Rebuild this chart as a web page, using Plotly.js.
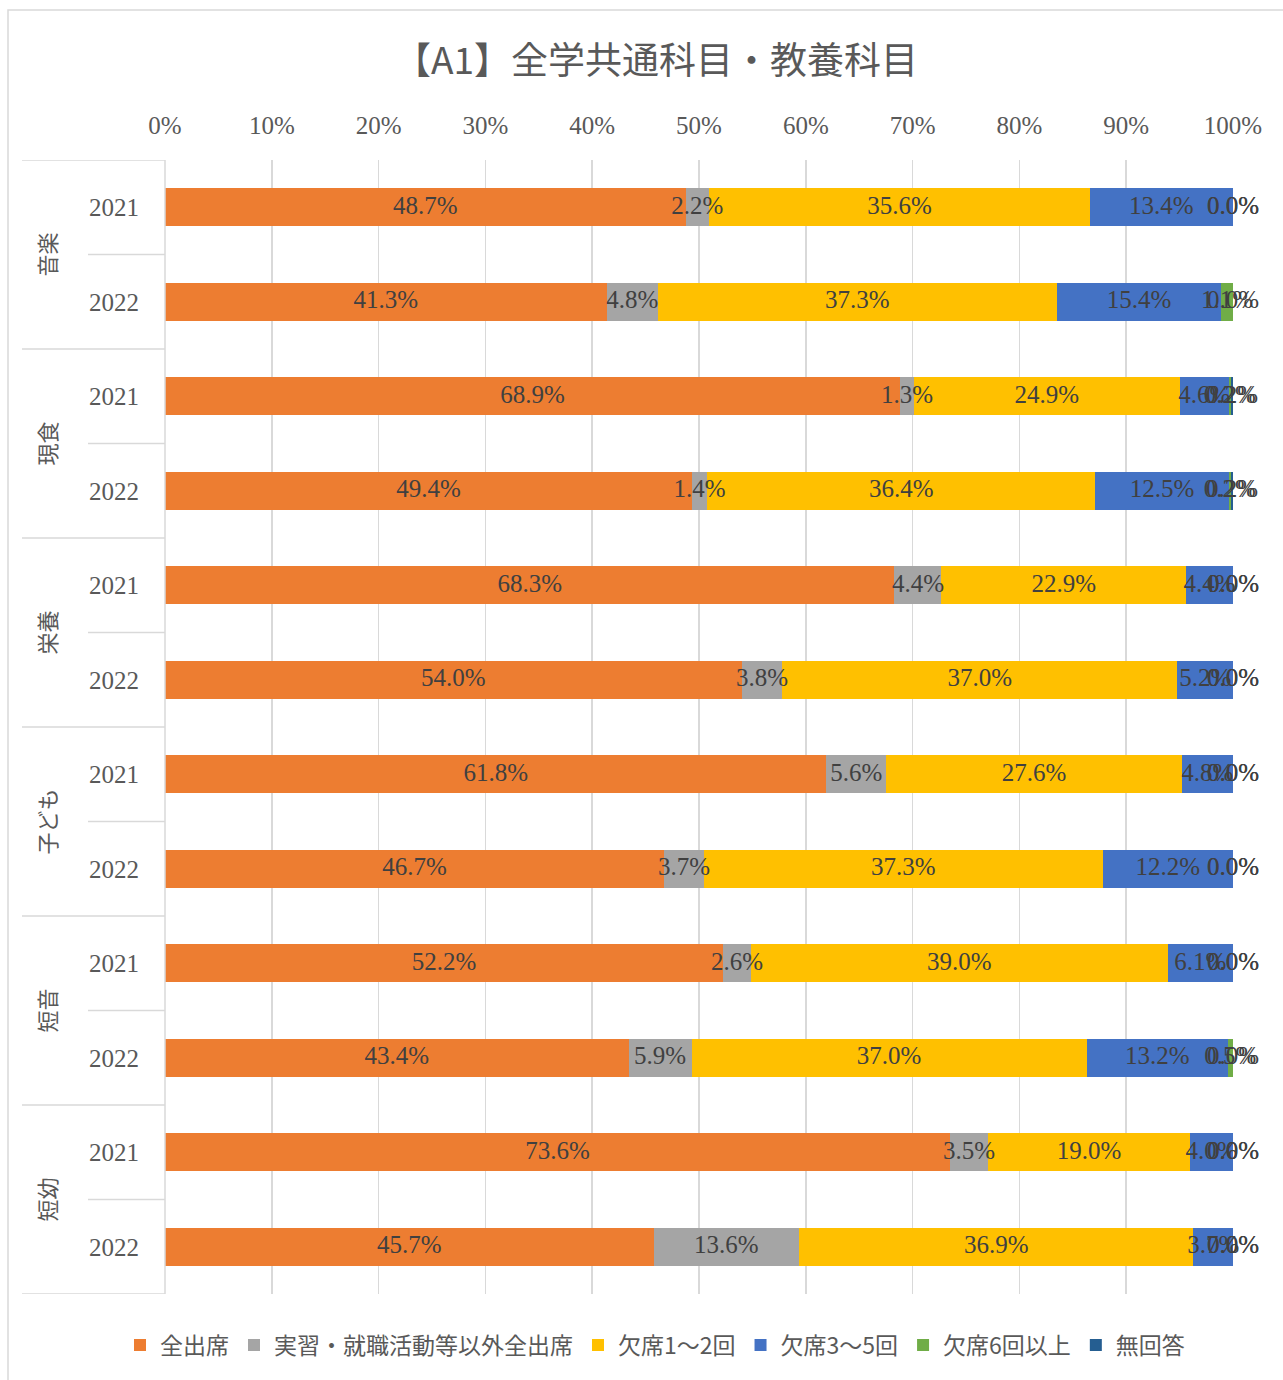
<!DOCTYPE html>
<html><head><meta charset="utf-8">
<script src="https://cdn.plot.ly/plotly-3.0.1.min.js"></script>
<style>html,body{margin:0;padding:0;background:#fff}#chart{width:1283px;height:1380px}</style>
</head><body><div id="chart"></div>
<script>
const groups = ['音楽','現食','栄養','子ども','短音','短幼'];
const years = ['2021','2022'];
const seriesNames = ['全出席','実習・就職活動等以外全出席','欠席1～2回','欠席3～5回','欠席6回以上','無回答'];
const seriesColors = ['#ED7D31','#A5A5A5','#FFC000','#4472C4','#70AD47','#255E91'];
const zenShusseki = [48.7,41.3,68.9,49.4,68.3,54.0,61.8,46.7,52.2,43.4,73.6,45.7];
const jisshuIgai  = [2.2,4.8,1.3,1.4,4.4,3.8,5.6,3.7,2.6,5.9,3.5,13.6];
const kesseki12   = [35.6,37.3,24.9,36.4,22.9,37.0,27.6,37.3,39.0,37.0,19.0,36.9];
const kesseki35   = [13.4,15.4,4.6,12.5,4.4,5.2,4.8,12.2,6.1,13.2,4.0,3.7];
const kesseki6    = [0.0,1.1,0.2,0.2,0.0,0.0,0.0,0.0,0.0,0.5,0.0,0.0];
const mukaito     = [0.0,0.0,0.2,0.2,0.0,0.0,0.0,0.0,0.0,0.0,0.0,0.0];
const allSeries = [zenShusseki,jisshuIgai,kesseki12,kesseki35,kesseki6,mukaito];

const ids = [], yearLabels = [];
groups.forEach(g => years.forEach(y => { ids.push(g + ' ' + y); yearLabels.push(y); }));

const NUMFONT = '"Liberation Serif", "DejaVu Serif", "Noto Sans CJK JP", serif';
const JPFONT = '"Noto Sans CJK JP", "Liberation Serif", sans-serif';

const barTraces = allSeries.map((vals, i) => ({
  type: 'bar', orientation: 'h', name: seriesNames[i],
  y: ids, x: vals,
  marker: {color: seriesColors[i], line: {width: 0}},
  hoverinfo: 'skip'
}));

// label positions: centre of each (normalised) segment, derived from the data
const totals = ids.map((_, j) => allSeries.reduce((s, arr) => s + arr[j], 0));
const cum = ids.map(() => 0);
const textTraces = allSeries.map((vals, i) => {
  const xs = vals.map((v, j) => {
    const c = (cum[j] + v / 2) / totals[j] * 100;
    cum[j] += v;
    return c;
  });
  return {
    type: 'scatter', mode: 'text', x: xs, y: ids, showlegend: false,
    text: vals.map(v => v.toFixed(1) + '%'), textposition: 'middle center',
    textfont: {family: NUMFONT, size: 25, color: '#404040'},
    cliponaxis: false, hoverinfo: 'skip'
  };
});

const L = 165, R = 1233, T = 160, B = 1294;
const pw = R - L, ph = B - T;
const px = x => (x - L) / pw;
const py = y => (B - y) / ph;

const shapes = [];
const lineCol = '#d9d9d9';
for (let g = 0; g <= groups.length; g++) {
  shapes.push({type:'line', xref:'paper', yref:'y', x0:px(22), x1:0, y0:g*2-0.5, y1:g*2-0.5, line:{color:lineCol,width:1.5}});
}
for (let g = 0; g < groups.length; g++) {
  shapes.push({type:'line', xref:'paper', yref:'y', x0:px(88), x1:0, y0:g*2+0.5, y1:g*2+0.5, line:{color:lineCol,width:1.5}});
}
shapes.push({type:'line', xref:'paper', yref:'paper', x0:0, x1:0, y0:0, y1:1, line:{color:lineCol,width:1.5}});
shapes.push({type:'rect', xref:'paper', yref:'paper', x0:px(8), x1:px(1300), y0:py(10), y1:py(1400), line:{color:lineCol,width:1.5}, fillcolor:'rgba(0,0,0,0)'});

const annotations = groups.map((g, i) => ({
  xref:'paper', yref:'y', x:px(45), y:i*2+0.5, text:g, textangle:-90, showarrow:false,
  xanchor:'center', yanchor:'middle', font:{family:JPFONT, size:22, color:'#595959'}
}));

const layout = {
  width: 1283, height: 1380,
  margin: {l: L, r: 1283 - R, t: T, b: 1380 - B, autoexpand: false},
  paper_bgcolor: '#fff', plot_bgcolor: '#fff',
  barmode: 'stack', barnorm: 'percent', bargap: 0.6,
  title: {text: '【A1】全学共通科目・教養科目', x: 656/1283, xref: 'container', xanchor:'center', y: 1 - 61/1380, yanchor: 'middle',
          font: {family: JPFONT, size: 37, color: '#595959'}},
  xaxis: {side: 'top', range: [0, 100], dtick: 10, ticksuffix: '%', showgrid: true, gridcolor: lineCol, gridwidth: 1.5,
          zeroline: false, showline: false, ticks: 'outside', ticklen: 15, tickcolor: 'rgba(0,0,0,0)',
          tickfont: {family: NUMFONT, size: 25, color: '#595959'}, fixedrange: true},
  yaxis: {type: 'category', range: [ids.length - 0.5, -0.5], autorange: false, tickvals: ids, ticktext: yearLabels, showgrid: false,
          zeroline: false, showline: false, ticks: 'outside', ticklen: 20, tickcolor: 'rgba(0,0,0,0)',
          tickfont: {family: NUMFONT, size: 25, color: '#595959'}, fixedrange: true},
  showlegend: true,
  legend: {orientation: 'h', x: px(655), xanchor: 'center', xref: 'paper', y: -51/ph, yanchor: 'middle',
           font: {family: JPFONT, size: 23, color: '#595959'}, traceorder: 'normal', itemwidth: 30},
  shapes: shapes, annotations: annotations
};

Plotly.newPlot('chart', barTraces.concat(textTraces), layout, {displayModeBar: false, staticPlot: true});
</script></body></html>
